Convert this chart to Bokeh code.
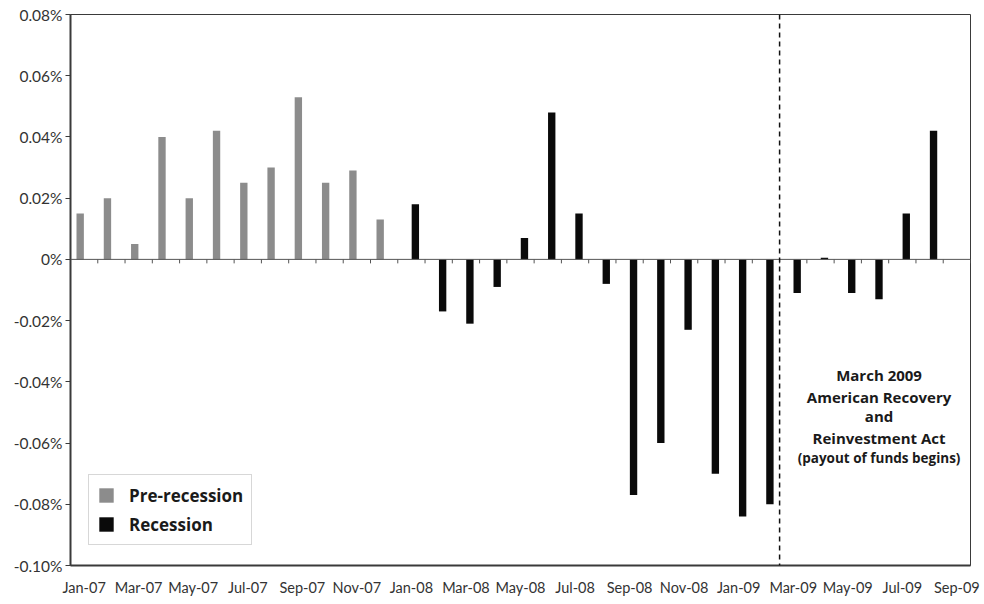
import numpy as np
from bokeh.plotting import figure
from bokeh.models import Range1d, FixedTicker, Span, Label, ColumnDataSource
from bokeh.embed import file_html
from bokeh.resources import INLINE

# ---------------- data ----------------
months = ["Jan-07", "Feb-07", "Mar-07", "Apr-07", "May-07", "Jun-07", "Jul-07", "Aug-07",
          "Sep-07", "Oct-07", "Nov-07", "Dec-07", "Jan-08", "Feb-08", "Mar-08", "Apr-08",
          "May-08", "Jun-08", "Jul-08", "Aug-08", "Sep-08", "Oct-08", "Nov-08", "Dec-08",
          "Jan-09", "Feb-09", "Mar-09", "Apr-09", "May-09", "Jun-09", "Jul-09", "Aug-09",
          "Sep-09"]

pre_months = months[:12]
pre_values = [0.015, 0.020, 0.005, 0.040, 0.020, 0.042, 0.025, 0.030, 0.053, 0.025, 0.029, 0.013]

rec_months = months[12:32]
rec_values = [0.018, -0.017, -0.021, -0.009, 0.007, 0.048, 0.015, -0.008, -0.077, -0.060,
              -0.023, -0.070, -0.084, -0.080, -0.011, 0.0005, -0.011, -0.013, 0.015, 0.042]

y_ticks = [-0.10, -0.08, -0.06, -0.04, -0.02, 0.0, 0.02, 0.04, 0.06, 0.08]
y_tick_labels = ["-0.10%", "-0.08%", "-0.06%", "-0.04%", "-0.02%", "0%", "0.02%", "0.04%", "0.06%", "0.08%"]

x_tick_labels = months[::2]
event_month = "Mar-09"

# ---------------- figure ----------------
FONT = "Lato"
BFONT = "Open Sans"
n = len(months)
p = figure(width=980, height=598, output_backend="svg", toolbar_location=None,
           x_range=Range1d(0, n), y_range=Range1d(y_ticks[0], y_ticks[-1]),
           min_border_left=70, min_border_right=10, min_border_top=14, min_border_bottom=32)
p.background_fill_color = "white"
p.border_fill_color = "white"
p.outline_line_color = "#3a3a3a"
p.outline_line_width = 1
p.grid.visible = False

dodge = 0.145
bw = 0.27
pre_src = ColumnDataSource(dict(x=[months.index(m) + 0.5 - dodge for m in pre_months], top=pre_values))
rec_src = ColumnDataSource(dict(x=[months.index(m) + 0.5 + dodge for m in rec_months], top=rec_values))

p.vbar(x="x", top="top", bottom=0, width=bw, source=pre_src, fill_color="#8c8c8c",
       line_color=None, legend_label="Pre-recession")
p.vbar(x="x", top="top", bottom=0, width=bw, source=rec_src, fill_color="#0a0a0a",
       line_color=None, legend_label="Recession")

# zero line with category tick marks
p.add_layout(Span(location=0, dimension="width", line_color="#555555", line_width=1))
bounds = list(range(1, n + 1))
p.segment(x0=bounds, y0=[0] * len(bounds), x1=bounds, y1=[-0.0013] * len(bounds),
          line_color="#555555", line_width=1)

# event line
p.add_layout(Span(location=months.index(event_month), dimension="height",
                  line_color="#111111", line_width=1.5, line_dash="5 4"))

# axes
ya = p.yaxis[0]
ya.ticker = FixedTicker(ticks=y_ticks)
ya.major_label_overrides = {t: l for t, l in zip(y_ticks, y_tick_labels)}
ya.axis_line_width = 2
ya.axis_line_color = "#3a3a3a"
ya.major_tick_out = 5
ya.major_tick_in = 0
ya.major_tick_line_color = "#3a3a3a"
ya.minor_tick_line_color = None
ya.major_label_text_font = FONT
ya.major_label_text_font_size = "15.5px"
ya.major_label_text_color = "#333333"
ya.major_label_standoff = 3

xa = p.xaxis[0]
x_tick_pos = [months.index(m) + 0.5 for m in x_tick_labels]
xa.ticker = FixedTicker(ticks=x_tick_pos)
xa.major_label_overrides = {t: l for t, l in zip(x_tick_pos, x_tick_labels)}
xa.axis_line_width = 2
xa.axis_line_color = "#3a3a3a"
xa.major_tick_out = 0
xa.major_tick_in = 0
xa.minor_tick_line_color = None
xa.major_label_text_font = FONT
xa.major_label_text_font_size = "14.5px"
xa.major_label_text_color = "#333333"
xa.major_label_standoff = 13

# annotation
ann_x = (months.index(event_month) + n) / 2
lines = [("March 2009", -0.0378, "15px"),
         ("American Recovery", -0.0448, "15px"),
         ("and", -0.0513, "15px"),
         ("Reinvestment Act", -0.0585, "15px"),
         ("(payout of funds begins)", -0.0650, "13.5px")]
for txt, yy, fs in lines:
    p.add_layout(Label(x=ann_x, y=yy, text=txt, text_align="center", text_baseline="middle",
                       x_offset=4, text_font=BFONT, text_font_style="bold", text_font_size=fs,
                       text_color="#1a1a1a"))

# legend
lg = p.legend[0]
lg.location = (18, 20)
lg.border_line_color = "#b0b0b0"
lg.border_line_width = 1
lg.background_fill_color = "white"
lg.background_fill_alpha = 1
lg.label_text_font = BFONT
lg.label_text_font_style = "bold"
lg.label_text_font_size = "17px"
lg.label_text_color = "#1a1a1a"
lg.glyph_width = 18
lg.glyph_height = 18
lg.label_standoff = 14
lg.label_height = 24
lg.spacing = 5
lg.padding = 8
lg.margin = 0

open("out.html", "w").write(file_html(p, INLINE))
